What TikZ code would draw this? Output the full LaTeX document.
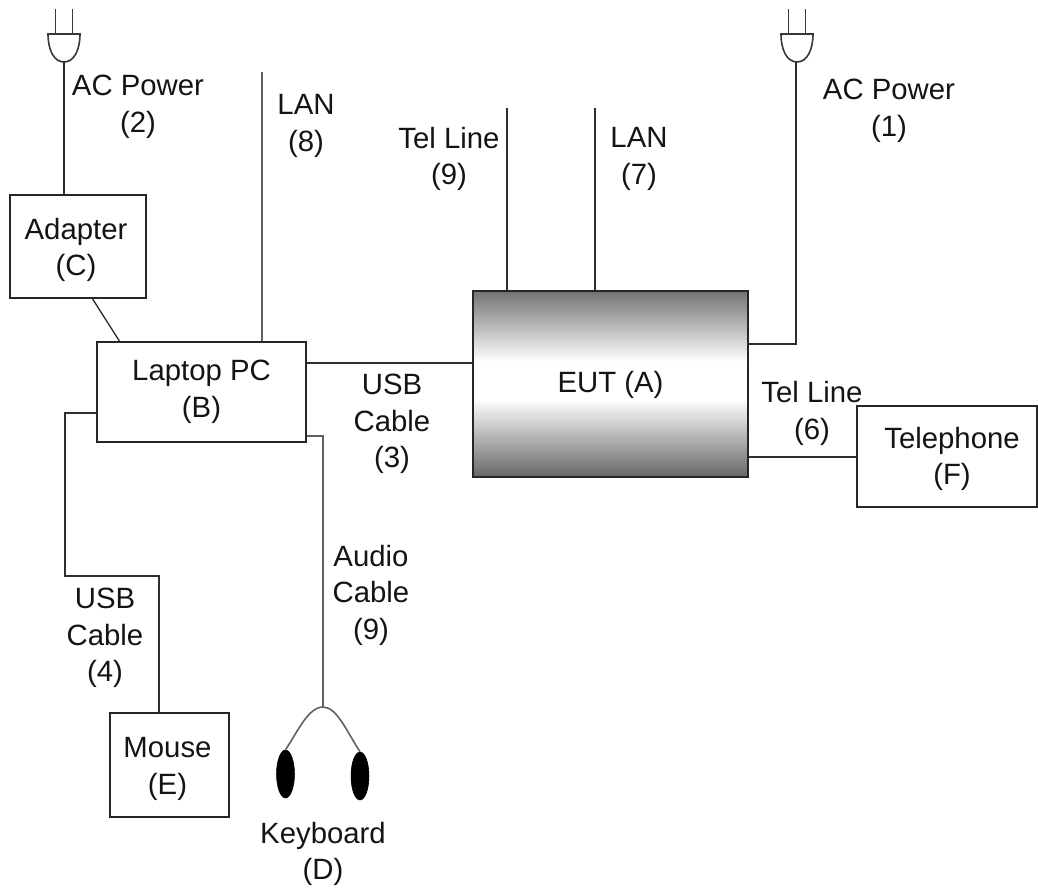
\documentclass[tikz,border=0pt]{standalone}
\usepackage{fontspec}
\usetikzlibrary{shapes.geometric}
\setmainfont{Liberation Sans}
\pgfdeclareverticalshading{eutshade}{100bp}{
  color(0bp)=(black!60); color(25bp)=(black!60);
  color(46bp)=(white); color(56bp)=(white);
  color(75bp)=(black!55); color(100bp)=(black!55)}
\newcommand\lowr[1]{\rule{0pt}{#1}}
\begin{document}
\begin{tikzpicture}[x=0.75pt,y=-0.75pt,
  every node/.style={font=\fontsize{22}{27.4}\selectfont,align=center,text=black!92},
  box/.style={draw=black!85,line width=1pt,fill=white,inner sep=0pt},
  wire/.style={draw=black!82,line width=1pt},
  graywire/.style={draw=black!62,line width=1.2pt},
  plug/.style={draw=black!78,line width=1.2pt},
  earbud/.style={fill=black,draw=black,inner sep=0pt}]
\useasboundingbox (0,0) rectangle (1038,888);
% boxes
\node[box,minimum width=102pt,minimum height=77.25pt] (adapter) at (78,246.5) {\lowr{21pt}Adapter\hspace*{3pt}\\(C)\hspace*{3pt}};
\node[box,minimum width=156.75pt,minimum height=75pt] (laptop) at (201.5,392) {Laptop PC\\(B)};
\node[box,minimum width=206.25pt,minimum height=139.5pt,shading=eutshade] (eut) at (610.5,384) {\lowr{18pt}EUT (A)};
\node[box,minimum width=135pt,minimum height=75.75pt] (tel) at (947,456.5) {\lowr{19.5pt}\hspace*{7.5pt}Telephone\\\hspace*{7.5pt}(F)};
\node[box,minimum width=89.25pt,minimum height=78pt] (mouse) at (169.5,765) {\lowr{21pt}Mouse\hspace*{3pt}\\(E)\hspace*{3pt}};
% free ends
\coordinate (plugL) at (64,62);
\coordinate (plugR) at (796,62);
\coordinate (lan8) at (262,72);
\coordinate (tel9) at (507,108);
\coordinate (lan7) at (595,108);
\coordinate (split) at (323,707);
\node[earbud,ellipse,minimum width=13.5pt,minimum height=36pt] (budL) at (285.5,774) {};
\node[earbud,ellipse,minimum width=13.5pt,minimum height=36pt] (budR) at (360,776) {};
% connectors
\draw[wire] (plugL) -- (plugL |- adapter.north);
\draw[wire] (92,298) -- (120,342);
\draw[graywire] (lan8) -- (lan8 |- laptop.north);
\draw[wire] (laptop.east |- 0,363) -- (eut.west |- 0,363);
\draw[wire] (tel9) -- (tel9 |- eut.north);
\draw[wire] (lan7) -- (lan7 |- eut.north);
\draw[wire] (eut.east |- 0,344) -| (plugR);
\draw[wire] (eut.east |- 0,457) -- (tel.west |- 0,457);
\draw[wire] (laptop.west |- 0,413) -- (65,413) -- (65,576) -- (159,576) -- (159,713);
\draw[graywire] (laptop.east |- 0,436) -- (323,436) -- (split);
\draw[graywire] (budL.north) .. controls (297,733) and (308,707) .. (split) .. controls (337,707) and (347,732) .. (budR.north);
% plugs
\foreach \c in {64,797}{
  \draw[plug] (\c-8.5,9) -- (\c-8.5,34) (\c+8.5,9) -- (\c+8.5,34);
  \draw[plug] (\c-17,34) -- (\c+17,34);
  \draw[plug] (\c-16,34) .. controls (\c-16,50) and (\c-10,62) .. (\c,62) .. controls (\c+10,62) and (\c+16,50) .. (\c+16,34);
}
% labels
\node (acTwo) at (138,107) {AC Power\\(2)};
\node (lanEight) at (306,126) {LAN\\(8)};
\node (telNine) at (449,159) {Tel Line\\(9)};
\node (lanSeven) at (639,159) {LAN\\(7)};
\node (acOne) at (889,111) {AC Power\\(1)};
\node (telSix) at (812,413.5) {Tel Line\\(6)};
\node (usbThree) at (392,424) {USB\\Cable\\(3)};
\node (usbFour) at (105,638) {USB\\Cable\\(4)};
\node (audio) at (371,595) {Audio\\Cable\\(9)};
\node (kbd) at (323,854) {Keyboard\\(D)};
\end{tikzpicture}
\end{document}
